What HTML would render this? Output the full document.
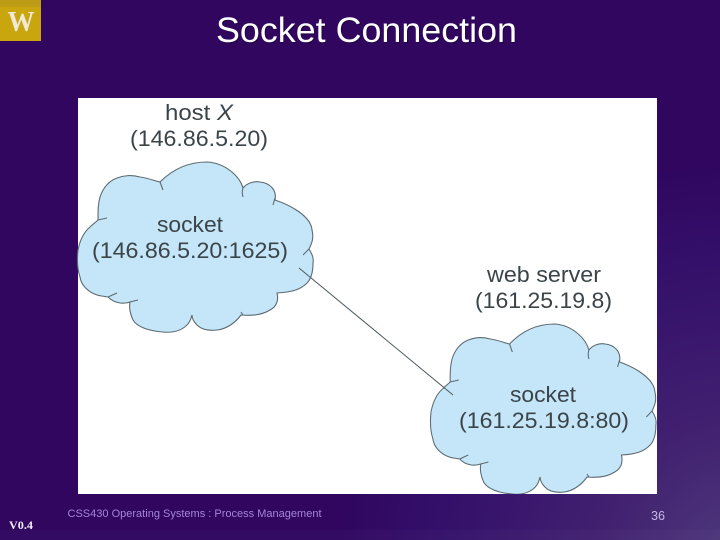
<!DOCTYPE html>
<html>
<head>
<meta charset="utf-8">
<style>
html,body{margin:0;padding:0;width:720px;height:540px;overflow:hidden;background:#30065f}
svg{display:block}
text{font-family:"Liberation Sans",sans-serif}
</style>
</head>
<body>
<svg width="720" height="540" viewBox="0 0 720 540" xmlns="http://www.w3.org/2000/svg">
<defs>
<radialGradient id="bg" gradientUnits="userSpaceOnUse" cx="740" cy="560" r="400">
<stop offset="0" stop-color="#4e3a7c"/>
<stop offset="0.35" stop-color="#412070"/>
<stop offset="0.75" stop-color="#34106a"/>
<stop offset="1" stop-color="#30065f"/>
</radialGradient>
<clipPath id="panel"><rect x="78" y="98" width="579" height="396"/></clipPath>
<g id="cloud">
<path fill="#c5e6f8" stroke="#5c6a72" stroke-width="1.1" d="M160 182 C172 170 188 162 207 162 C226 163 240 177 243 188 C247 183 254 181 260 182 C270 183 277 190 275 200 C290 205 311 216 312 230 C314 238 312 243 309 249 C312 254 314 258 313 263 C313 272 311 279 307 283 C301 289 294 292 277 293 C279 301 276 307 270 310 C262 315 252 316 241 315 C236 322 227 329 217 330 C208 331 201 329 197 325 C194 322 192 318 192 315 C191 319 190 322 187 325 C181 331 172 333 163 332 C149 331 137 327 133 320 C130 314 129 307 130 302 C124 304 115 304 108 297 C103 296 100 296 97 295 C88 292 81 285 80 277 C77 268 77 259 78 250 C80 240 84 232 90 227 C93 224 96 222 98 220 C98 211 98 204 100 197 C103 188 109 181 117 178 C125 175 133 175 140 177 C148 178 155 181 160 182 Z"/>
<path fill="none" stroke="#5c6a72" stroke-width="1.1" d="M160 182 L163 190 M243 188 C242 191 242 194 243 197 M275 198 L273 205 M309 249 L303 255 M98 220 L107 218 M108 297 L117 293 M130 302 L138 300 M243 315 L241 312"/>
</g>
</defs>
<rect width="720" height="540" fill="url(#bg)"/>
<rect x="0" y="530" width="720" height="10" fill="#ffffff" opacity="0.025"/>

<!-- Logo -->
<rect x="0" y="0" width="41" height="41" fill="#c9a50e"/>
<rect x="0" y="0" width="41" height="7" fill="#a58a2a" opacity="0.3"/>
<text x="21" y="31" text-anchor="middle" font-size="29" font-weight="bold" fill="#efe9d6" style="font-family:'Liberation Serif',serif" textLength="27" lengthAdjust="spacingAndGlyphs">W</text>

<!-- Title -->
<text x="217" y="43" font-size="35" fill="#1b0538" textLength="301" lengthAdjust="spacingAndGlyphs" opacity="0.8">Socket Connection</text>
<text x="216" y="42" font-size="35" fill="#ffffff" textLength="301" lengthAdjust="spacingAndGlyphs">Socket Connection</text>

<!-- Diagram panel -->
<rect x="78" y="98" width="579" height="396" fill="#ffffff"/>

<!-- Clouds -->
<use href="#cloud"/>
<g clip-path="url(#panel)">
<g transform="translate(431 162) scale(0.957 1) translate(-78 0)">
<use href="#cloud"/>
</g>
</g>

<!-- Connector -->
<line x1="299" y1="268" x2="453" y2="395" stroke="#4d5a60" stroke-width="1"/>

<!-- Labels -->
<g fill="#3b4448" font-size="22.5">
<text x="165" y="120" textLength="68" lengthAdjust="spacingAndGlyphs">host <tspan font-style="italic">X</tspan></text>
<text x="130" y="146" textLength="138" lengthAdjust="spacingAndGlyphs">(146.86.5.20)</text>
<text x="157" y="232" textLength="66" lengthAdjust="spacingAndGlyphs">socket</text>
<text x="92" y="258" textLength="196" lengthAdjust="spacingAndGlyphs">(146.86.5.20:1625)</text>
<text x="487" y="282" textLength="114" lengthAdjust="spacingAndGlyphs">web server</text>
<text x="475" y="308" textLength="137" lengthAdjust="spacingAndGlyphs">(161.25.19.8)</text>
<text x="510" y="402" textLength="66" lengthAdjust="spacingAndGlyphs">socket</text>
<text x="459" y="428" textLength="170" lengthAdjust="spacingAndGlyphs">(161.25.19.8:80)</text>
</g>

<!-- Footer -->
<text x="9" y="529" font-size="12" font-weight="bold" fill="#f4eefa" textLength="24" lengthAdjust="spacingAndGlyphs" style="font-family:'Liberation Serif',serif">V0.4</text>
<text x="67.500" y="517" font-size="11" fill="#a685da" textLength="254" lengthAdjust="spacing">CSS430 Operating Systems : Process Management</text>
<text x="651" y="520" font-size="13" fill="#c5b6e6" textLength="14" lengthAdjust="spacingAndGlyphs">36</text>
</svg>
</body>
</html>
